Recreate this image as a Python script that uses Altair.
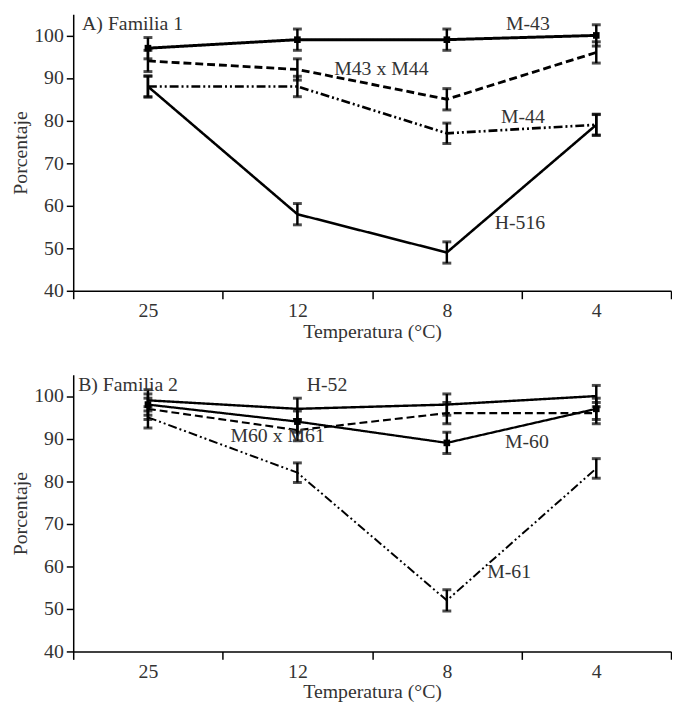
import altair as alt
import pandas as pd

temps = ["25", "12", "8", "4"]

# Panel A: Familia 1
a_names = ["M-43", "M43 x M44", "M-44", "H-516"]
a_m43 = [97, 99, 99, 100]
a_m43x44 = [94, 92, 85, 96]
a_m44 = [88, 88, 77, 79]
a_h516 = [88, 58, 49, 79]
a_err_m43 = [2.5, 2.5, 2.5, 2.5]
a_err_m43x44 = [2.5, 2.5, 2.5, 2.5]
a_err_m44 = [2.4, 2.4, 2.4, 2.4]
a_err_h516 = [2.5, 2.5, 2.5, 2.5]

# Panel B: Familia 2
b_names = ["H-52", "M-60", "M60 x M61", "M-61"]
b_h52 = [99, 97, 98, 100]
b_m60 = [98, 94, 89, 97]
b_m60x61 = [97, 92, 96, 96]
b_m61 = [95, 82, 52, 83]
b_err_h52 = [2.5, 2.5, 2.5, 2.5]
b_err_m60 = [2.5, 2.5, 2.5, 2.5]
b_err_m60x61 = [2.5, 2.5, 2.5, 2.5]
b_err_m61 = [2.5, 2.3, 2.5, 2.3]

# series labels: (text, anchor category, value, dx)
a_labels = [("M-43", "8", 102.6, 82), ("M43 x M44", "12", 92, 85),
            ("M-44", "8", 80.7, 77), ("H-516", "8", 56, 74)]
b_labels = [("H-52", "12", 102.6, 30), ("M60 x M61", "12", 90.6, -20),
            ("M-60", "8", 89.2, 81), ("M-61", "8", 58.6, 63)]

all_names = a_names + b_names
all_dashes = [[1, 0], [8, 4], [9, 3, 2, 3, 2, 3], [1, 0],
              [1, 0], [1, 0], [8, 4], [9, 3, 2, 3, 2, 3]]
all_widths = [3, 2, 2, 1.6, 1.3, 2.2, 2, 1.8]

FONT = "Liberation Serif"
TXT = "#333333"
FS = 20
W, H = 605, 280


def make_df(names, values, errs):
    rows = []
    for n, vals, es in zip(names, values, errs):
        for t, v, e in zip(temps, vals, es):
            rows.append({"temp": t, "serie": n, "val": v, "lo": v - e, "hi": v + e})
    return pd.DataFrame(rows)


def panel(df, squares, labels, title_text, title_dx, title_val):
    x = alt.X("temp:N", sort=temps, bandPosition=0.5,
              scale=alt.Scale(type="band", paddingInner=0, paddingOuter=0),
              axis=alt.Axis(title="Temperatura (°C)", labelAngle=0, tickBand="extent",
                            tickSize=8, labelPadding=2, titlePadding=1))
    y = alt.Y("val:Q", scale=alt.Scale(domain=[40, 105], nice=False, zero=False),
              axis=alt.Axis(title="Porcentaje", values=[40, 50, 60, 70, 80, 90, 100],
                            tickSize=7, labelPadding=3, titlePadding=3))
    base = alt.Chart(df)
    lines = base.mark_line(color="black").encode(
        x=x, y=y,
        detail="serie:N",
        strokeDash=alt.StrokeDash("serie:N", scale=alt.Scale(domain=all_names, range=all_dashes), legend=None),
        strokeWidth=alt.StrokeWidth("serie:N", scale=alt.Scale(domain=all_names, range=all_widths), legend=None),
    )
    rules = base.mark_rule(color="black", strokeWidth=2.5).encode(
        x=x, y=alt.Y("lo:Q"), y2="hi:Q")
    cap_lo = base.mark_tick(color="black", thickness=3, size=9).encode(x=x, y=alt.Y("lo:Q"))
    cap_hi = base.mark_tick(color="black", thickness=3, size=9).encode(x=x, y=alt.Y("hi:Q"))
    sq = base.transform_filter(alt.FieldOneOfPredicate(field="serie", oneOf=squares)).mark_square(
        color="black", size=45, opacity=1).encode(x=x, y=y)
    layers = [lines, rules, cap_lo, cap_hi, sq]
    for txt, cat, v, dx in labels:
        ldf = pd.DataFrame({"temp": [cat], "val": [v], "t": [txt]})
        layers.append(alt.Chart(ldf).mark_text(font=FONT, fontSize=FS, color=TXT, dx=dx,
                                               align="center", baseline="middle").encode(
            x=alt.X("temp:N", sort=temps, bandPosition=0.5), y=alt.Y("val:Q"), text="t:N"))
    tdf = pd.DataFrame({"val": [title_val], "t": [title_text]})
    layers.append(alt.Chart(tdf).mark_text(font=FONT, fontSize=FS, color=TXT, align="left",
                                           baseline="middle").encode(
        x=alt.value(title_dx), y=alt.Y("val:Q"), text="t:N"))
    return alt.layer(*layers).properties(width=W, height=H)


dfa = make_df(a_names, [a_m43, a_m43x44, a_m44, a_h516],
              [a_err_m43, a_err_m43x44, a_err_m44, a_err_h516])
dfb = make_df(b_names, [b_h52, b_m60, b_m60x61, b_m61],
              [b_err_h52, b_err_m60, b_err_m60x61, b_err_m61])

pa = panel(dfa, ["M-43"], a_labels, "A) Familia 1", 9, 102.6)
pb = panel(dfb, ["M-60"], b_labels, "B) Familia 2", 5, 102.7)

chart = alt.vconcat(pa, pb, spacing=33).properties(
    padding={"left": 3, "top": 2, "right": 0, "bottom": 0}
).configure_view(stroke=None).configure_axis(
    labelFont=FONT, titleFont=FONT, labelFontSize=FS, titleFontSize=FS,
    labelColor=TXT, titleColor=TXT, titleFontWeight="normal",
    domainColor="black", tickColor="black", domainWidth=1.5, tickWidth=1.5, grid=False
)

chart.save("out.html", embed_options={"renderer": "svg", "actions": False})
